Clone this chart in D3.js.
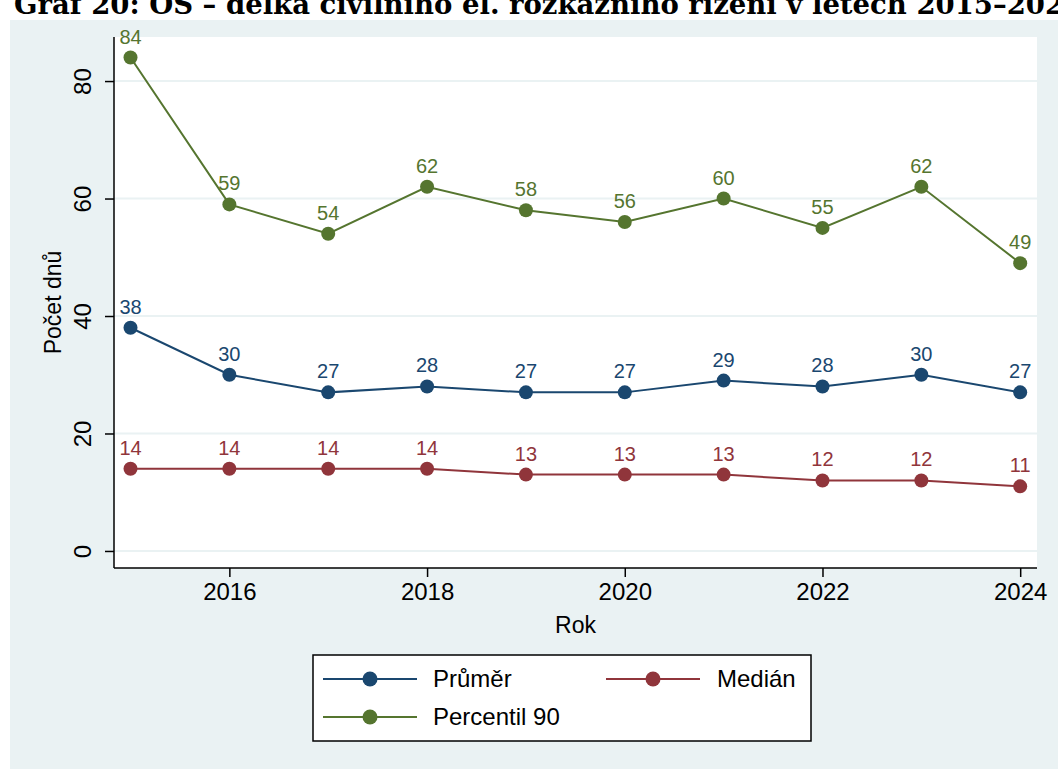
<!DOCTYPE html>
<html><head><meta charset="utf-8">
<script src="https://cdn.jsdelivr.net/npm/d3@7"></script>
<style>
html,body{margin:0;padding:0;background:#fff;}
svg{display:block;}
text{font-family:"Liberation Sans",Arial,sans-serif;}
</style></head>
<body>
<svg id="c" width="1058" height="769"></svg>
<script>
const years = [2015,2016,2017,2018,2019,2020,2021,2022,2023,2024];
const prumer = [38,30,27,28,27,27,29,28,30,27];
const median = [14,14,14,14,13,13,13,12,12,11];
const p90 = [84,59,54,62,58,56,60,55,62,49];
const yTicks = [0,20,40,60,80];
const xTicks = [2016,2018,2020,2022,2024];
const seriesNames = ["Průměr","Medián","Percentil 90"];
const colors = ["#1a476f","#90353b","#55752f"];

const svg = d3.select("#c");
const W=1058,H=769;
svg.append("rect").attr("x",0).attr("y",0).attr("width",W).attr("height",H).attr("fill","#fff");
svg.append("rect").attr("x",10).attr("y",20).attr("width",W-10).attr("height",H-20).attr("fill","#eaf2f3");
// title (cut off at top, as in the source)
svg.append("text").attr("x",14).attr("y",14)
  .style("font-family","'DejaVu Serif',serif").style("font-weight","bold").style("font-size","27.5px")
  .attr("fill","#000").text("Graf 20: OS – délka civilního el. rozkazního řízení v letech 2015–2024");

const L=114,R=1037,T=37,B=568;
svg.append("rect").attr("x",L).attr("y",T).attr("width",R-L).attr("height",B-T).attr("fill","#fff");

const x = d3.scaleLinear().domain([2014.833,2024.17]).range([L,R]);
const y = d3.scaleLinear().domain([-2.9,87.5]).range([B,T]);

svg.append("g").selectAll("line").data(yTicks).join("line")
  .attr("x1",L).attr("x2",R).attr("y1",d=>y(d)).attr("y2",d=>y(d))
  .attr("stroke","#eaf2f3").attr("stroke-width",2);

const ya = svg.append("g").attr("transform",`translate(${L},0)`)
  .call(d3.axisLeft(y).tickValues(yTicks).tickSize(9).tickPadding(0).tickFormat(d3.format("d")));
ya.select(".domain").attr("d",`M0,${T}V${B}`).attr("stroke","#000").attr("stroke-width",1.5);
ya.selectAll(".tick line").attr("stroke","#000").attr("stroke-width",1.5);
ya.selectAll(".tick text").attr("x",0).attr("y",0)
  .attr("transform","translate(-31,0) rotate(-90)").attr("text-anchor","middle").attr("dy","0.35em")
  .style("font-size","24px").style("font-family","'Liberation Sans',Arial,sans-serif").attr("fill","#000");

const xa = svg.append("g").attr("transform",`translate(0,${B})`)
  .call(d3.axisBottom(x).tickValues(xTicks).tickSize(9).tickPadding(6).tickFormat(d3.format("d")));
xa.select(".domain").attr("d",`M${L},0H${R}`).attr("stroke","#000").attr("stroke-width",1.5);
xa.selectAll(".tick line").attr("stroke","#000").attr("stroke-width",1.5);
xa.selectAll(".tick text").style("font-size","24px").style("font-family","'Liberation Sans',Arial,sans-serif").attr("fill","#000");

svg.append("text").attr("x",(L+R)/2).attr("y",633).attr("text-anchor","middle")
  .style("font-size","23px").attr("fill","#000").text("Rok");
svg.append("text").attr("transform",`translate(61,${(T+B)/2}) rotate(-90)`).attr("text-anchor","middle")
  .style("font-size","23px").attr("fill","#000").text("Počet dnů");

const data = [prumer,median,p90];
const line = d3.line().x((d,i)=>x(years[i])).y(d=>y(d));
data.forEach((vals,si)=>{
  const g = svg.append("g");
  g.append("path").datum(vals).attr("d",line).attr("fill","none").attr("stroke",colors[si]).attr("stroke-width",2);
  g.selectAll("circle").data(vals).join("circle")
    .attr("cx",(d,i)=>x(years[i])).attr("cy",d=>y(d)).attr("r",7).attr("fill",colors[si]);
  g.selectAll("text").data(vals).join("text")
    .attr("x",(d,i)=>x(years[i])).attr("y",d=>y(d)-14).attr("text-anchor","middle")
    .style("font-size","20px").attr("fill",colors[si]).text(d=>d);
});

svg.append("rect").attr("x",313).attr("y",655).attr("width",498).attr("height",86)
  .attr("fill","#fff").attr("stroke","#000").attr("stroke-width",1.5);
const leg = [
  {i:0,x0:323,y:679,tx:433},
  {i:1,x0:606,y:679,tx:717},
  {i:2,x0:323,y:717,tx:433}
];
leg.forEach(l=>{
  svg.append("line").attr("x1",l.x0).attr("x2",l.x0+94).attr("y1",l.y).attr("y2",l.y)
    .attr("stroke",colors[l.i]).attr("stroke-width",2);
  svg.append("circle").attr("cx",l.x0+47).attr("cy",l.y).attr("r",7.5).attr("fill",colors[l.i]);
  svg.append("text").attr("x",l.tx).attr("y",l.y).attr("dy","0.35em")
    .style("font-size","24px").attr("fill","#000").text(seriesNames[l.i]);
});
</script>
</body></html>
